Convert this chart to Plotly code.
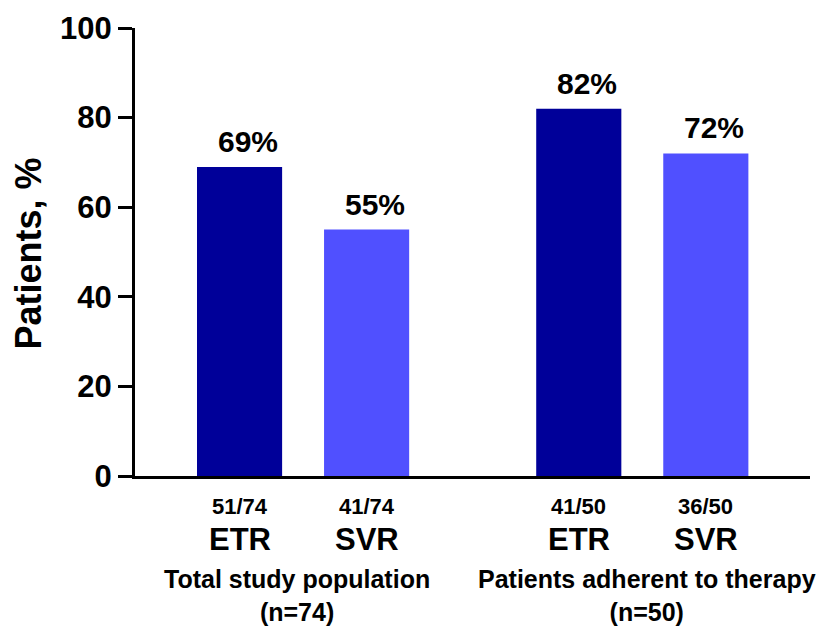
import plotly.graph_objects as go

# Response rates by population
endpoints = ["ETR", "SVR", "ETR", "SVR"]
fractions = ["51/74", "41/74", "41/50", "36/50"]
percent = [69, 55, 82, 72]
groups = ["Total study population<br>(n=74)", "Patients adherent to therapy<br>(n=50)"]
bar_x = [1, 2, 3.67, 4.67]
group_x = [1.45, 4.21]
bar_colors = ["#000099", "#5050FF", "#000099", "#5050FF"]
y_ticks = [0, 20, 40, 60, 80, 100]

FONT = "Arial, Liberation Sans, sans-serif"

fig = go.Figure()
fig.add_trace(go.Bar(
    x=bar_x, y=percent, width=0.67,
    marker=dict(color=bar_colors, line=dict(width=0)),
    showlegend=False, hoverinfo="skip",
))

ann = []
# value labels above the bars
for x, v in zip(bar_x, percent):
    ann.append(dict(x=x, y=v, xref="x", yref="y", text=f"<b>{v}%</b>",
                    showarrow=False, xanchor="center", yanchor="bottom",
                    xshift=8, yshift=7, font=dict(family=FONT, size=30, color="black")))


def py(pix):
    # paper coordinate for a vertical pixel position in the 626px page
    return (476 - pix) / 453


for x, fr, ep in zip(bar_x, fractions, endpoints):
    ann.append(dict(x=x, y=py(507), xref="x", yref="paper", text=f"<b>{fr}</b>",
                    showarrow=False, xanchor="center", yanchor="middle",
                    font=dict(family=FONT, size=22, color="black")))
    ann.append(dict(x=x, y=py(540), xref="x", yref="paper", text=f"<b>{ep}</b>",
                    showarrow=False, xanchor="center", yanchor="middle",
                    font=dict(family=FONT, size=31, color="black")))

for gx, g in zip(group_x, groups):
    ann.append(dict(x=gx, y=py(597), xref="x", yref="paper", text=f"<b>{g}</b>",
                    showarrow=False, xanchor="center", yanchor="middle",
                    font=dict(family=FONT, size=25, color="black")))

# y-axis title
ann.append(dict(x=(28 - 135) / 675, y=py(251), xref="paper", yref="paper",
                text="<b>Patients, %</b>", textangle=-90, showarrow=False,
                xanchor="center", yanchor="middle",
                font=dict(family=FONT, size=36, color="black")))

fig.update_layout(
    width=821, height=626,
    margin=dict(l=135, r=11, t=23, b=150),
    paper_bgcolor="white", plot_bgcolor="white",
    annotations=ann,
    xaxis=dict(range=[0.177, 5.49], showgrid=False, zeroline=False,
               showticklabels=False, ticks="", showline=True,
               linecolor="black", linewidth=3),
    yaxis=dict(range=[0, 100], tickvals=y_ticks, ticktext=[f"<b>{t}</b>" for t in y_ticks],
               showgrid=False, zeroline=False, showline=True, linecolor="black",
               linewidth=3, ticks="outside", ticklen=14, tickwidth=3, tickcolor="black",
               tickfont=dict(family=FONT, size=31, color="black")),
)

fig.write_html("out.html")
